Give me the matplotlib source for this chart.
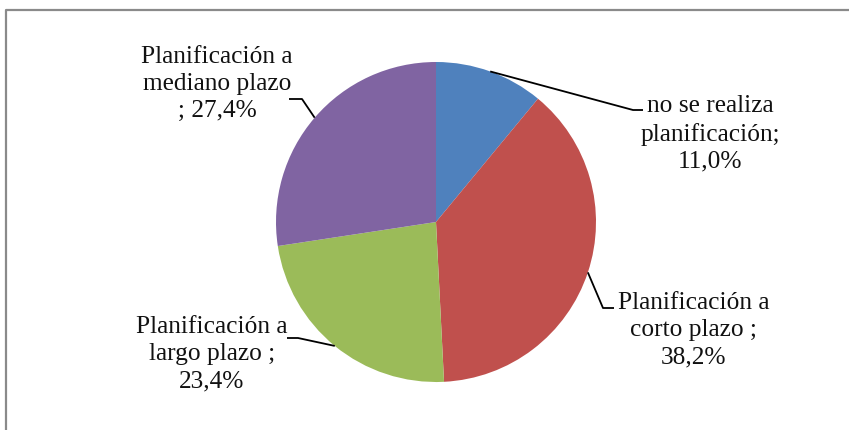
import numpy as np
import matplotlib
matplotlib.use("Agg")
import matplotlib.pyplot as plt

categories = ["no se realiza\nplanificación;", "Planificación a\ncorto plazo ;",
              "Planificación a\nlargo plazo ;", "Planificación a\nmediano plazo\n;"]
values = [11.0, 38.2, 23.4, 27.4]
colors = ["#4F81BD", "#C0504D", "#9BBB59", "#8064A2"]

W, H = 849, 430
fig = plt.figure(figsize=(W / 100, H / 100), dpi=100)
ax = fig.add_axes([0, 0, 1, 1])
ax.set_xlim(0, W)
ax.set_ylim(0, H)
ax.set_aspect("equal")
ax.axis("off")

cx, cy, r = 436, H - 222, 160
wedges, _ = ax.pie(values, colors=colors, startangle=90, counterclock=False,
                   center=(cx, cy), radius=r, wedgeprops=dict(linewidth=0))
ax.set_xlim(0, W)
ax.set_ylim(0, H)

plt.rcParams["font.family"] = ["Liberation Serif", "DejaVu Serif"]

def fmt(v):
    return f"{v:.1f}".replace(".", ",") + "%"

labels = [
    "no se realiza\nplanificación;\n" + fmt(values[0]),
    "Planificación a\ncorto plazo ;\n" + fmt(values[1]),
    "Planificación a\nlargo plazo ;\n" + fmt(values[2]),
    "Planificación a\nmediano plazo\n; " + fmt(values[3]),
]
# text centres and leader elbows (pixel coords, y from top)
text_pos = [(710, 134), (694, 330), (212, 354), (217, 84)]
elbows = [((633, 110), (643, 110)), ((603, 308), (614, 308)),
          ((298, 338), (287, 338)), ((302, 99), (289, 99))]

for w, lab, tp, (e1, e2) in zip(wedges, labels, text_pos, elbows):
    ang = np.deg2rad((w.theta1 + w.theta2) / 2)
    sx, sy = cx + r * np.cos(ang), cy + r * np.sin(ang)
    ax.plot([sx, e1[0], e2[0]], [sy, H - e1[1], H - e2[1]], color="black", lw=1.3,
            solid_capstyle="butt")
    ax.text(tp[0], H - tp[1], lab, ha="center", va="center", fontsize=18.3,
            linespacing=1.3, color="#111111")

# outer frame (extends beyond right and bottom)
ax.plot([6.5, 6.5, W + 5], [-5, H - 9.5, H - 9.5], color="#8a8a8a", lw=1.6,
        clip_on=False)

fig.savefig("out.png", dpi=100)
